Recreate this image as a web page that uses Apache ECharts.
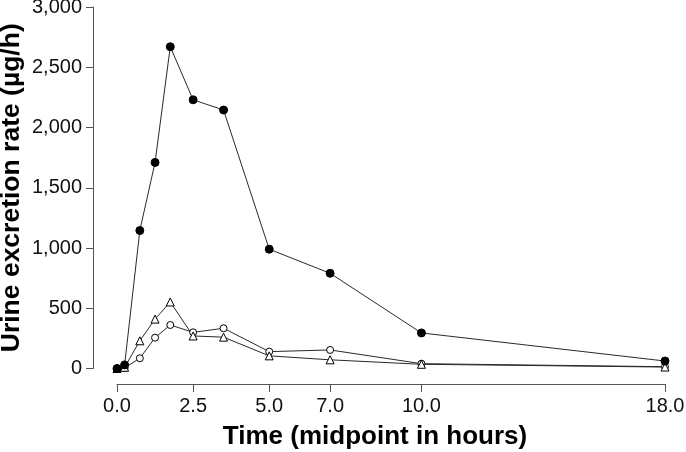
<!DOCTYPE html>
<html>
<head>
<meta charset="utf-8">
<script src="https://cdn.jsdelivr.net/npm/echarts@6/dist/echarts.min.js"></script>
<style>
  html, body { margin: 0; padding: 0; background: #fff; }
  #chart { width: 686px; height: 452px; }
</style>
</head>
<body>
<div id="chart"></div>
<script>
// midpoint of each urine collection interval (h)
var times = [0, 0.25, 0.75, 1.25, 1.75, 2.5, 3.5, 5, 7, 10, 18];
var filledCircle = [0, 30, 1145, 1710, 2670, 2230, 2145, 990, 790, 295, 62];
var openTriangle = [0, 10, 230, 410, 552, 270, 260, 105, 72, 35, 12];
var openCircle = [0, 5, 85, 256, 361, 300, 334, 140, 154, 40, 15];
var xTicks = [0, 2.5, 5, 7, 10, 18];

var font = "'Liberation Sans', Arial, sans-serif";

function pairs(vals) {
  return times.map(function (t, i) { return [t, vals[i]]; });
}

function makeSeries(vals, symbol, size, filled) {
  return {
    type: "line",
    data: pairs(vals),
    symbol: symbol,
    symbolSize: size,
    showSymbol: true,
    animation: false,
    lineStyle: { color: "#2a2a2a", width: 1 },
    itemStyle: {
      color: filled ? "#000" : "#fff",
      borderColor: "#000",
      borderWidth: 1
    }
  };
}

var chart = echarts.init(document.getElementById("chart"));
chart.setOption({
  backgroundColor: "#fff",
  animation: false,
  grid: { left: 117, right: 21, top: 7, bottom: 83.5, outerBoundsMode: "none", containLabel: false },
  xAxis: {
    type: "value",
    min: 0,
    max: 18,
    offset: 15.5,
    splitLine: { show: false },
    axisLine: { show: true, onZero: false, lineStyle: { color: "#555", width: 1 } },
    axisTick: {
      show: true,
      customValues: xTicks,
      length: 8,
      lineStyle: { color: "#555" }
    },
    axisLabel: {
      customValues: xTicks,
      margin: 12,
      color: "#111",
      fontSize: 20,
      fontFamily: font,
      formatter: function (v) { return v.toFixed(1); }
    },
    name: "Time (midpoint in hours)",
    nameLocation: "middle",
    nameGap: 40,
    nameMoveOverlap: false,
    nameTextStyle: {
      fontSize: 26,
      fontWeight: "bold",
      color: "#000",
      fontFamily: font,
      padding: [0, 32, 0, 0]
    }
  },
  yAxis: {
    type: "value",
    min: 0,
    max: 3000,
    interval: 500,
    offset: 24,
    splitLine: { show: false },
    axisLine: { show: true, onZero: false, lineStyle: { color: "#555", width: 1 } },
    axisTick: { show: true, length: 7, lineStyle: { color: "#555" } },
    axisLabel: {
      margin: 11,
      color: "#111",
      fontSize: 20,
      fontFamily: font,
      formatter: function (v) { return v.toLocaleString("en-US"); }
    },
    name: "Urine excretion rate (µg/h)",
    nameLocation: "middle",
    nameRotate: 90,
    nameGap: 68,
    nameMoveOverlap: false,
    nameTextStyle: {
      fontSize: 26.5,
      fontWeight: "bold",
      color: "#000",
      fontFamily: font
    }
  },
  series: [
    makeSeries(openCircle, "circle", 7, false),
    makeSeries(openTriangle, "triangle", 8, false),
    makeSeries(filledCircle, "circle", 8, true)
  ]
});
</script>
</body>
</html>
